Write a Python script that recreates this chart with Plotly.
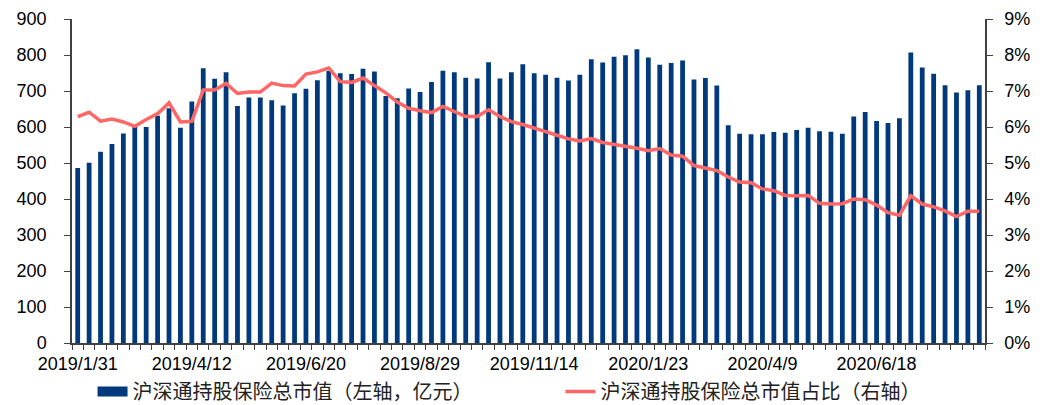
import plotly.graph_objects as go

# weekly observations, 2019/1/31 onwards
tick_labels = ['2019/1/31', '2019/4/12', '2019/6/20', '2019/8/29',
               '2019/11/14', '2020/1/23', '2020/4/9', '2020/6/18']

# 沪深通持股保险总市值 (亿元)
market_value = [486, 501, 531, 553, 582, 600, 600, 631, 652, 598,
                671, 763, 734, 752, 658, 682, 682, 674, 660, 694,
                706, 730, 756, 749, 747, 762, 754, 686, 680, 707,
                697, 725, 756, 752, 737, 735, 780, 735, 752, 774,
                749, 745, 737, 729, 745, 788, 779, 795, 799, 816,
                793, 773, 778, 785, 732, 736, 715, 605, 581, 580,
                580, 586, 584, 592, 598, 588, 587, 581, 629, 642,
                617, 611, 624, 807, 765, 748, 716, 696, 702, 716]

# 沪深通持股保险总市值占比 (%)
share_pct = [6.29, 6.41, 6.16, 6.22, 6.14, 6.02, 6.21, 6.37, 6.67, 6.14,
             6.16, 7.03, 7.03, 7.21, 6.93, 6.97, 6.97, 7.22, 7.15, 7.14,
             7.47, 7.53, 7.64, 7.26, 7.24, 7.36, 7.15, 6.95, 6.69, 6.52,
             6.45, 6.40, 6.57, 6.42, 6.29, 6.29, 6.48, 6.29, 6.15, 6.07,
             5.98, 5.87, 5.77, 5.67, 5.61, 5.68, 5.57, 5.52, 5.45, 5.41,
             5.34, 5.40, 5.22, 5.19, 4.93, 4.87, 4.79, 4.61, 4.47, 4.45,
             4.28, 4.23, 4.10, 4.09, 4.10, 3.88, 3.86, 3.87, 4.00, 3.98,
             3.83, 3.62, 3.55, 4.09, 3.86, 3.78, 3.67, 3.51, 3.66, 3.66]

idx = list(range(len(market_value)))
tick_pos = idx[::10]

BAR_NAME = '沪深通持股保险总市值（左轴，亿元）'
LINE_NAME = '沪深通持股保险总市值占比（右轴）'
BAR_COLOR = '#003A7D'
LINE_COLOR = '#FF6666'
AXIS_COLOR = '#404040'
tick_font = dict(family='Liberation Sans, Arial, sans-serif', size=18, color='black')
legend_font = dict(family='Noto Sans CJK SC', size=20, color='#222222')

fig = go.Figure()

fig.add_trace(go.Bar(
    x=idx, y=market_value, name=BAR_NAME, showlegend=False,
    marker=dict(color=BAR_COLOR, line=dict(width=0)),
))

# legend-only proxy so the bar key is drawn as a wide flat block
fig.add_trace(go.Scatter(
    x=[None], y=[None], name=BAR_NAME, mode='lines',
    line=dict(color=BAR_COLOR, width=11), legend='legend',
))

fig.add_trace(go.Scatter(
    x=idx, y=share_pct, name=LINE_NAME, mode='lines',
    line=dict(color=LINE_COLOR, width=3.5),
    yaxis='y2', legend='legend2',
))

# page body adds an 8px margin, so the figure is 8px smaller than the window
fig.update_layout(
    width=1035, height=397,
    margin=dict(l=64, r=58, t=11, b=62, autoexpand=False),
    plot_bgcolor='white', paper_bgcolor='white',
    bargap=0.58,
    showlegend=True,
    legend=dict(
        orientation='h', x=0.0225, y=-0.15, xanchor='left', yanchor='middle',
        font=legend_font,
    ),
    legend2=dict(
        orientation='h', x=0.535, y=-0.15, xanchor='left', yanchor='middle',
        font=legend_font,
    ),
    xaxis=dict(
        range=[-0.5, len(idx) - 0.5],
        tickvals=tick_pos, ticktext=tick_labels,
        ticks='', tickfont=tick_font, ticklabelstandoff=4,
        showline=True, linecolor=AXIS_COLOR, linewidth=1.5,
        showgrid=False, zeroline=False,
        minor=dict(ticks='outside', tick0=-0.5, dtick=1, ticklen=5,
                   tickcolor=AXIS_COLOR, showgrid=False),
    ),
    yaxis=dict(
        range=[0, 900], dtick=100,
        ticks='outside', ticklen=6, tickcolor=AXIS_COLOR,
        tickfont=tick_font, ticklabelstandoff=14,
        showline=True, linecolor=AXIS_COLOR, linewidth=1.5,
        showgrid=False, zeroline=False,
    ),
    yaxis2=dict(
        range=[0, 9], dtick=1, ticksuffix='%',
        overlaying='y', side='right',
        ticks='outside', ticklen=6, tickcolor=AXIS_COLOR,
        tickfont=tick_font, ticklabelstandoff=8,
        showline=True, linecolor=AXIS_COLOR, linewidth=1.5,
        showgrid=False, zeroline=False,
    ),
)

fig.write_html('out.html')
